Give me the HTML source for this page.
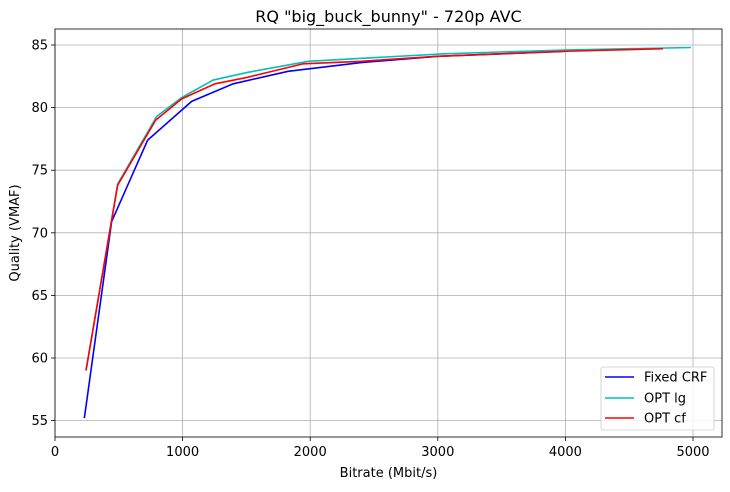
<!DOCTYPE html>
<html><head><meta charset="utf-8"><style>
body{margin:0;background:#fff;font-family:"Liberation Sans","DejaVu Sans",sans-serif;}
svg text{font-family:"DejaVu Sans","Liberation Sans",sans-serif;}
</style></head><body>
<svg id="chart" width="730" height="487" xmlns="http://www.w3.org/2000/svg"></svg>
<script>
const xTicks=[0,1000,2000,3000,4000,5000];
const yTicks=[55,60,65,70,75,80,85];
const fixedX=[230,444,726,1071,1397,1828,2400,3000,4020];
const fixedY=[55.2,70.9,77.4,80.5,81.9,82.9,83.6,84.1,84.5];
const lgX=[243,491,797,993,1240,1502,1985,3050,4000,4984];
const lgY=[59.0,73.9,79.3,80.8,82.2,82.8,83.7,84.3,84.6,84.8];
const cfX=[243,491,789,993,1254,1500,1946,2400,3000,4000,4765];
const cfY=[59.0,73.8,79.0,80.7,81.9,82.4,83.5,83.7,84.1,84.5,84.7];
const L=55,R=722,T=29,B=437;
const sx=v=>55+v*0.1276;
const sy=v=>45+(85-v)*12.52;
const svg=document.getElementById('chart');
const NS='http://www.w3.org/2000/svg';
function mk(tag,attrs,parent){const e=document.createElementNS(NS,tag);for(const k in attrs)e.setAttribute(k,attrs[k]);(parent||svg).appendChild(e);return e;}
function txt(s,attrs){const e=mk('text',attrs);e.textContent=s;return e;}
const grid=mk('g',{});


xTicks.forEach(v=>{const x=sx(v);
 const g=mk('line',{x1:x,x2:x,y1:T,y2:B,stroke:'#b0b0b0','stroke-width':0.8},grid);
 
 mk('line',{x1:x,x2:x,y1:B,y2:B+4,stroke:'#000','stroke-width':0.8});
 const t=txt(String(v),{x:x,y:B+19,'font-size':13,'text-anchor':'middle'});
 
});
yTicks.forEach(v=>{const y=sy(v);
 const g=mk('line',{x1:L,x2:R,y1:y,y2:y,stroke:'#b0b0b0','stroke-width':0.8},grid);
 
 mk('line',{x1:L-4,x2:L,y1:y,y2:y,stroke:'#000','stroke-width':0.8});
 const t=txt(String(v),{x:L-7,y:y+4.5,'font-size':13,'text-anchor':'end'});
 
});
function series(xs,ys,color,name){
 const p=mk('polyline',{points:xs.map((x,i)=>sx(x)+','+sy(ys[i])).join(' '),fill:'none',stroke:color,'stroke-width':1.6});
 
}
series(fixedX,fixedY,'#0000ff','series-fixed-crf');
series(lgX,lgY,'#00bfbf','series-opt-lg');
series(cfX,cfY,'#ff0000','series-opt-cf');
const frame=mk('rect',{x:L,y:T,width:R-L,height:B-T,fill:'none',stroke:'#000','stroke-width':0.8});

const title=txt('RQ "big_buck_bunny" - 720p AVC',{x:(L+R)/2,y:22,'font-size':16,'text-anchor':'middle'});

const xt=txt('Bitrate (Mbit/s)',{x:(L+R)/2,y:477,'font-size':13,'text-anchor':'middle'});

const yt=txt('Quality (VMAF)',{x:19,y:(T+B)/2,'font-size':13,'text-anchor':'middle',transform:'rotate(-90 19 '+((T+B)/2)+')'});

const lg=mk('g',{});

mk('rect',{x:601,y:367,width:113,height:63,rx:2,fill:'#fff','fill-opacity':0.85,stroke:'#ccc','stroke-width':0.8},lg);
[['Fixed CRF','#0000ff',377],['OPT lg','#00bfbf',398],['OPT cf','#ff0000',418]].forEach(([n,c,y])=>{
 const e=mk('g',{},lg);
 
 mk('line',{x1:605,x2:634,y1:y,y2:y,stroke:c,'stroke-width':1.6},e);
 const t=mk('text',{x:644,y:y+4.5,'font-size':13},e);t.textContent=n;
});
</script>
</body></html>
